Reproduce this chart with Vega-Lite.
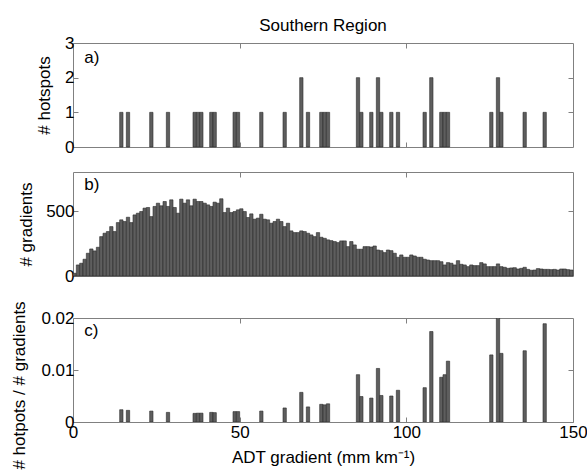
{
  "$schema": "https://vega.github.io/schema/vega-lite/v6.json",
  "padding": {"left": 10, "top": 16, "right": 5, "bottom": 0},
  "background": "white",
  "config": {
    "font": "Liberation Sans",
    "view": {"stroke": "#808080", "strokeWidth": 1},
    "axis": {
      "labelFont": "Liberation Sans", "titleFont": "Liberation Sans",
      "labelFontSize": 17, "titleFontSize": 17, "titleFontWeight": "normal",
      "labelColor": "#000", "titleColor": "#000",
      "domain": false, "grid": false, "labelFlush": false,
      "tickColor": "#808080", "tickSize": -5, "labelPadding": 4
    },
    "title": {"font": "Liberation Sans", "fontSize": 17, "fontWeight": "normal", "color": "#000"}
  },
  "datasets": {
    "hot": [
      {"lo": 14, "hi": 15, "n": 1, "r": 0.00236},
      {"lo": 16, "hi": 17, "n": 1, "r": 0.00224},
      {"lo": 23, "hi": 24, "n": 1, "r": 0.0021},
      {"lo": 28, "hi": 29, "n": 1, "r": 0.00185},
      {"lo": 36, "hi": 37, "n": 1, "r": 0.00166},
      {"lo": 37, "hi": 38, "n": 1, "r": 0.0017},
      {"lo": 38, "hi": 39, "n": 1, "r": 0.0017},
      {"lo": 41, "hi": 42, "n": 1, "r": 0.00185},
      {"lo": 42, "hi": 43, "n": 1, "r": 0.0018},
      {"lo": 48, "hi": 49, "n": 1, "r": 0.002},
      {"lo": 49, "hi": 50, "n": 1, "r": 0.002},
      {"lo": 56, "hi": 57, "n": 1, "r": 0.0021},
      {"lo": 63, "hi": 64, "n": 1, "r": 0.0027},
      {"lo": 68, "hi": 69, "n": 2, "r": 0.0057},
      {"lo": 70, "hi": 71, "n": 1, "r": 0.0029},
      {"lo": 74, "hi": 75, "n": 1, "r": 0.0034},
      {"lo": 75, "hi": 76, "n": 1, "r": 0.0033},
      {"lo": 76, "hi": 77, "n": 1, "r": 0.0035},
      {"lo": 85, "hi": 86, "n": 2, "r": 0.0091},
      {"lo": 86, "hi": 87, "n": 1, "r": 0.0049},
      {"lo": 89, "hi": 90, "n": 1, "r": 0.0046},
      {"lo": 91, "hi": 92, "n": 2, "r": 0.0103},
      {"lo": 92, "hi": 93, "n": 1, "r": 0.0051},
      {"lo": 95, "hi": 96, "n": 1, "r": 0.005},
      {"lo": 97, "hi": 98, "n": 1, "r": 0.0061},
      {"lo": 105, "hi": 106, "n": 1, "r": 0.0066},
      {"lo": 107, "hi": 108, "n": 2, "r": 0.0174},
      {"lo": 110, "hi": 111, "n": 1, "r": 0.0086},
      {"lo": 111, "hi": 112, "n": 1, "r": 0.0091},
      {"lo": 112, "hi": 113, "n": 1, "r": 0.0117},
      {"lo": 125, "hi": 126, "n": 1, "r": 0.0129},
      {"lo": 127, "hi": 128, "n": 2, "r": 0.0215},
      {"lo": 128, "hi": 129, "n": 1, "r": 0.0132},
      {"lo": 135, "hi": 136, "n": 1, "r": 0.0137},
      {"lo": 141, "hi": 142, "n": 1, "r": 0.0189}
    ],
    "grad": [
      {"lo": 0, "hi": 1, "g": 21}, {"lo": 1, "hi": 2, "g": 85}, {"lo": 2, "hi": 3, "g": 98}, {"lo": 3, "hi": 4, "g": 129}, {"lo": 4, "hi": 5, "g": 175},
      {"lo": 5, "hi": 6, "g": 208}, {"lo": 6, "hi": 7, "g": 193}, {"lo": 7, "hi": 8, "g": 221}, {"lo": 8, "hi": 9, "g": 303}, {"lo": 9, "hi": 10, "g": 329},
      {"lo": 10, "hi": 11, "g": 342}, {"lo": 11, "hi": 12, "g": 380}, {"lo": 12, "hi": 13, "g": 342}, {"lo": 13, "hi": 14, "g": 411}, {"lo": 14, "hi": 15, "g": 432},
      {"lo": 15, "hi": 16, "g": 419}, {"lo": 16, "hi": 17, "g": 452}, {"lo": 17, "hi": 18, "g": 411}, {"lo": 18, "hi": 19, "g": 470}, {"lo": 19, "hi": 20, "g": 483},
      {"lo": 20, "hi": 21, "g": 496}, {"lo": 21, "hi": 22, "g": 522}, {"lo": 22, "hi": 23, "g": 527}, {"lo": 23, "hi": 24, "g": 457}, {"lo": 24, "hi": 25, "g": 535},
      {"lo": 25, "hi": 26, "g": 560}, {"lo": 26, "hi": 27, "g": 540}, {"lo": 27, "hi": 28, "g": 573}, {"lo": 28, "hi": 29, "g": 535}, {"lo": 29, "hi": 30, "g": 586},
      {"lo": 30, "hi": 31, "g": 527}, {"lo": 31, "hi": 32, "g": 483}, {"lo": 32, "hi": 33, "g": 591}, {"lo": 33, "hi": 34, "g": 560}, {"lo": 34, "hi": 35, "g": 586},
      {"lo": 35, "hi": 36, "g": 540}, {"lo": 36, "hi": 37, "g": 591}, {"lo": 37, "hi": 38, "g": 573}, {"lo": 38, "hi": 39, "g": 573}, {"lo": 39, "hi": 40, "g": 560},
      {"lo": 40, "hi": 41, "g": 547}, {"lo": 41, "hi": 42, "g": 535}, {"lo": 42, "hi": 43, "g": 568}, {"lo": 43, "hi": 44, "g": 560}, {"lo": 44, "hi": 45, "g": 594},
      {"lo": 45, "hi": 46, "g": 488}, {"lo": 46, "hi": 47, "g": 522}, {"lo": 47, "hi": 48, "g": 488}, {"lo": 48, "hi": 49, "g": 496}, {"lo": 49, "hi": 50, "g": 509},
      {"lo": 50, "hi": 51, "g": 517}, {"lo": 51, "hi": 52, "g": 496}, {"lo": 52, "hi": 53, "g": 450}, {"lo": 53, "hi": 54, "g": 478}, {"lo": 54, "hi": 55, "g": 437},
      {"lo": 55, "hi": 56, "g": 445}, {"lo": 56, "hi": 57, "g": 475}, {"lo": 57, "hi": 58, "g": 437}, {"lo": 58, "hi": 59, "g": 432}, {"lo": 59, "hi": 60, "g": 406},
      {"lo": 60, "hi": 61, "g": 419}, {"lo": 61, "hi": 62, "g": 437}, {"lo": 62, "hi": 63, "g": 419}, {"lo": 63, "hi": 64, "g": 380}, {"lo": 64, "hi": 65, "g": 406},
      {"lo": 65, "hi": 66, "g": 347}, {"lo": 66, "hi": 67, "g": 334}, {"lo": 67, "hi": 68, "g": 334}, {"lo": 68, "hi": 69, "g": 347}, {"lo": 69, "hi": 70, "g": 342},
      {"lo": 70, "hi": 71, "g": 329}, {"lo": 71, "hi": 72, "g": 316}, {"lo": 72, "hi": 73, "g": 303}, {"lo": 73, "hi": 74, "g": 334}, {"lo": 74, "hi": 75, "g": 298},
      {"lo": 75, "hi": 76, "g": 290}, {"lo": 76, "hi": 77, "g": 278}, {"lo": 77, "hi": 78, "g": 272}, {"lo": 78, "hi": 79, "g": 265}, {"lo": 79, "hi": 80, "g": 257},
      {"lo": 80, "hi": 81, "g": 270}, {"lo": 81, "hi": 82, "g": 270}, {"lo": 82, "hi": 83, "g": 226}, {"lo": 83, "hi": 84, "g": 265}, {"lo": 84, "hi": 85, "g": 239},
      {"lo": 85, "hi": 86, "g": 206}, {"lo": 86, "hi": 87, "g": 206}, {"lo": 87, "hi": 88, "g": 226}, {"lo": 88, "hi": 89, "g": 226}, {"lo": 89, "hi": 90, "g": 223},
      {"lo": 90, "hi": 91, "g": 231}, {"lo": 91, "hi": 92, "g": 200}, {"lo": 92, "hi": 93, "g": 195}, {"lo": 93, "hi": 94, "g": 180}, {"lo": 94, "hi": 95, "g": 200},
      {"lo": 95, "hi": 96, "g": 195}, {"lo": 96, "hi": 97, "g": 175}, {"lo": 97, "hi": 98, "g": 144}, {"lo": 98, "hi": 99, "g": 162}, {"lo": 99, "hi": 100, "g": 144},
      {"lo": 100, "hi": 101, "g": 144}, {"lo": 101, "hi": 102, "g": 162}, {"lo": 102, "hi": 103, "g": 154}, {"lo": 103, "hi": 104, "g": 144}, {"lo": 104, "hi": 105, "g": 144},
      {"lo": 105, "hi": 106, "g": 129}, {"lo": 106, "hi": 107, "g": 123}, {"lo": 107, "hi": 108, "g": 118}, {"lo": 108, "hi": 109, "g": 118}, {"lo": 109, "hi": 110, "g": 118},
      {"lo": 110, "hi": 111, "g": 110}, {"lo": 111, "hi": 112, "g": 85}, {"lo": 112, "hi": 113, "g": 103}, {"lo": 113, "hi": 114, "g": 98}, {"lo": 114, "hi": 115, "g": 85},
      {"lo": 115, "hi": 116, "g": 118}, {"lo": 116, "hi": 117, "g": 90}, {"lo": 117, "hi": 118, "g": 85}, {"lo": 118, "hi": 119, "g": 72}, {"lo": 119, "hi": 120, "g": 85},
      {"lo": 120, "hi": 121, "g": 80}, {"lo": 121, "hi": 122, "g": 80}, {"lo": 122, "hi": 123, "g": 103}, {"lo": 123, "hi": 124, "g": 93}, {"lo": 124, "hi": 125, "g": 72},
      {"lo": 125, "hi": 126, "g": 72}, {"lo": 126, "hi": 127, "g": 72}, {"lo": 127, "hi": 128, "g": 93}, {"lo": 128, "hi": 129, "g": 72}, {"lo": 129, "hi": 130, "g": 67},
      {"lo": 130, "hi": 131, "g": 59}, {"lo": 131, "hi": 132, "g": 62}, {"lo": 132, "hi": 133, "g": 64}, {"lo": 133, "hi": 134, "g": 54}, {"lo": 134, "hi": 135, "g": 59},
      {"lo": 135, "hi": 136, "g": 67}, {"lo": 136, "hi": 137, "g": 51}, {"lo": 137, "hi": 138, "g": 44}, {"lo": 138, "hi": 139, "g": 46}, {"lo": 139, "hi": 140, "g": 57},
      {"lo": 140, "hi": 141, "g": 54}, {"lo": 141, "hi": 142, "g": 51}, {"lo": 142, "hi": 143, "g": 51}, {"lo": 143, "hi": 144, "g": 49}, {"lo": 144, "hi": 145, "g": 51},
      {"lo": 145, "hi": 146, "g": 46}, {"lo": 146, "hi": 147, "g": 54}, {"lo": 147, "hi": 148, "g": 54}, {"lo": 148, "hi": 149, "g": 49}, {"lo": 149, "hi": 150, "g": 46}
    ]
  },
  "vconcat": [
    {
      "spacing": 15,
      "vconcat": [
        {
          "width": 500, "height": 104,
          "title": {"text": "Southern Region", "frame": "group", "anchor": "middle", "offset": -1},
          "layer": [
            {
              "data": {"name": "hot"},
              "mark": {"type": "bar", "fill": "#5e5e5e", "stroke": "#2a2a2a", "strokeWidth": 0.6},
              "encoding": {
                "x": {"field": "lo", "type": "quantitative", "scale": {"domain": [0, 150], "nice": false},
                      "axis": {"orient": "bottom", "values": [50, 100], "labels": false, "title": null}},
                "x2": {"field": "hi"},
                "y": {"field": "n", "type": "quantitative", "scale": {"domain": [0, 3], "nice": false},
                      "axis": {"orient": "left", "values": [0, 1, 2, 3], "title": "# hotspots", "titlePadding": 11}},
                "y2": {"datum": 0}
              }
            },
            {
              "data": {"values": [{"label": "a)"}]},
              "mark": {"type": "text", "align": "left", "baseline": "alphabetic", "fontSize": 17, "font": "Liberation Sans", "color": "#000"},
              "encoding": {
                "x": {"datum": 3.4, "type": "quantitative", "axis": {"orient": "top", "values": [50, 100], "labels": false, "title": null}},
                "y": {"datum": 2.42, "type": "quantitative", "axis": {"orient": "right", "values": [1, 2], "labels": false, "title": null}},
                "text": {"field": "label"}
              }
            }
          ],
          "resolve": {"axis": {"x": "independent", "y": "independent"}}
        },
        {
          "width": 500, "height": 104,
          "layer": [
            {
              "data": {"name": "grad"},
              "mark": {"type": "bar", "fill": "#5e5e5e", "stroke": "#2a2a2a", "strokeWidth": 0.6},
              "encoding": {
                "x": {"field": "lo", "type": "quantitative", "scale": {"domain": [0, 150], "nice": false},
                      "axis": {"orient": "bottom", "values": [50, 100], "labels": false, "title": null}},
                "x2": {"field": "hi"},
                "y": {"field": "g", "type": "quantitative", "scale": {"domain": [0, 800], "nice": false},
                      "axis": {"orient": "left", "values": [0, 500], "title": "# gradients", "titlePadding": 10}},
                "y2": {"datum": 0}
              }
            },
            {
              "data": {"values": [{"label": "b)"}]},
              "mark": {"type": "text", "align": "left", "baseline": "alphabetic", "fontSize": 17, "font": "Liberation Sans", "color": "#000"},
              "encoding": {
                "x": {"datum": 3.4, "type": "quantitative", "axis": {"orient": "top", "values": [50, 100], "labels": false, "title": null}},
                "y": {"datum": 662, "type": "quantitative", "axis": {"orient": "right", "values": [500], "labels": false, "title": null}},
                "text": {"field": "label"}
              }
            }
          ],
          "resolve": {"axis": {"x": "independent", "y": "independent"}}
        }
      ]
    },
    {
      "width": 500, "height": 104,
      "layer": [
        {
          "data": {"name": "hot"},
          "mark": {"type": "bar", "fill": "#5e5e5e", "stroke": "#2a2a2a", "strokeWidth": 0.6, "clip": true},
          "encoding": {
            "x": {"field": "lo", "type": "quantitative", "scale": {"domain": [0, 150], "nice": false},
                  "axis": {"orient": "bottom", "values": [0, 50, 100, 150], "title": "ADT gradient (mm km⁻¹)", "titlePadding": 9, "labelPadding": 7}},
            "x2": {"field": "hi"},
            "y": {"field": "r", "type": "quantitative", "scale": {"domain": [0, 0.02], "nice": false},
                  "axis": {"orient": "left", "values": [0, 0.01, 0.02], "title": "# hotpots / # gradients", "titlePadding": 12, "titleY": 67,
                           "labelExpr": "datum.value == 0 ? '0' : format(datum.value, '.2f')"}},
            "y2": {"datum": 0}
          }
        },
        {
          "data": {"values": [{"label": "c)"}]},
          "mark": {"type": "text", "align": "left", "baseline": "alphabetic", "fontSize": 17, "font": "Liberation Sans", "color": "#000"},
          "encoding": {
            "x": {"datum": 3.4, "type": "quantitative", "axis": {"orient": "top", "values": [50, 100], "labels": false, "title": null}},
            "y": {"datum": 0.0166, "type": "quantitative", "axis": {"orient": "right", "values": [0.01], "labels": false, "title": null}},
            "text": {"field": "label"}
          }
        }
      ],
      "resolve": {"axis": {"x": "independent", "y": "independent"}}
    }
  ],
  "spacing": 15
}
